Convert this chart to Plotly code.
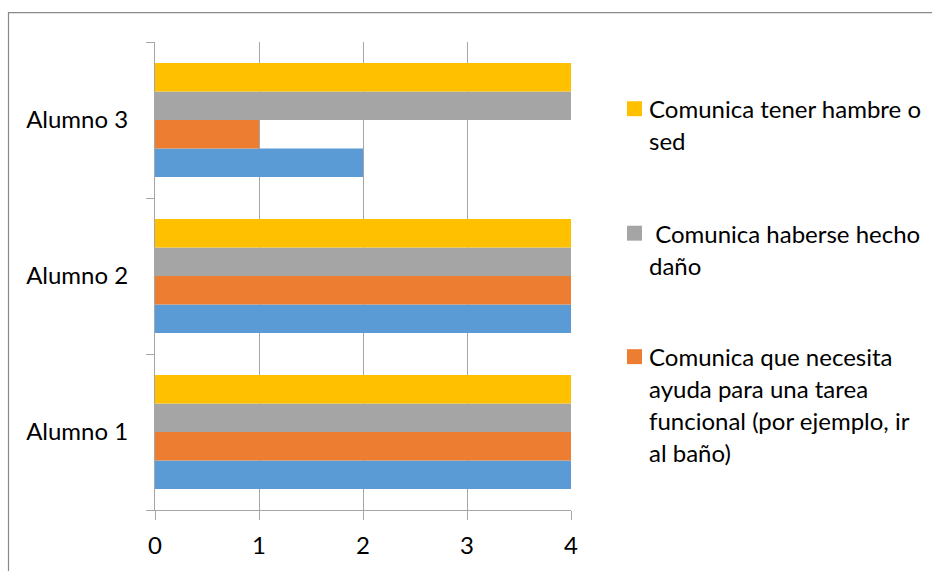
import plotly.graph_objects as go

# Categories (bottom to top) and series values
alumnos = ["Alumno 1", "Alumno 2", "Alumno 3"]
serie_azul = [4, 4, 2]
serie_naranja = [4, 4, 1]
serie_gris = [4, 4, 4]
serie_amarilla = [4, 4, 4]

nombres = [
    "Serie 1",
    "Comunica que necesita ayuda para una tarea funcional (por ejemplo, ir al baño)",
    " Comunica haberse hecho daño",
    "Comunica tener hambre o sed",
]
# Line-wrapped legend labels (top to bottom)
leyenda_lineas = [
    ["Comunica tener hambre o", "sed"],
    [" Comunica haberse hecho", "daño"],
    ["Comunica que necesita", "ayuda para una tarea", "funcional (por ejemplo, ir", "al baño)"],
]
x_ticks = [0, 1, 2, 3, 4]

colores = ["#5B9BD5", "#ED7D31", "#A5A5A5", "#FFC000"]
FONT = "Lato"
FS = 24
W, H = 932, 571
L, R, T, B = 155, 361, 42, 59
PW, PH = W - L - R, H - T - B


def px_x(p):
    return (p - L) / PW


def px_y(p):
    return (H - B - p) / PH


fig = go.Figure()
for vals, nombre, color in zip(
    [serie_azul, serie_naranja, serie_gris, serie_amarilla], nombres, colores
):
    fig.add_trace(
        go.Bar(
            y=alumnos,
            x=vals,
            name=nombre,
            orientation="h",
            marker=dict(color=color, line=dict(width=0)),
            showlegend=False,
        )
    )

# Legend drawn as colour squares plus wrapped text lines
leyenda_colores = [colores[3], colores[2], colores[1]]
inicio_y = [109, 234, 358]
paso = 32
for color, lineas, y0 in zip(leyenda_colores, leyenda_lineas, inicio_y):
    fig.add_shape(
        type="rect", xref="paper", yref="paper",
        x0=px_x(627), x1=px_x(642), y0=px_y(y0 - 7.5), y1=px_y(y0 + 7.5),
        fillcolor=color, line=dict(width=0),
    )
    for i, linea in enumerate(lineas):
        fig.add_annotation(
            xref="paper", yref="paper", x=px_x(647), y=px_y(y0 + i * paso),
            xanchor="left", yanchor="middle", showarrow=False,
            text=linea.replace(" ", "&nbsp;", 1) if linea.startswith(" ") else linea,
            font=dict(family=FONT, size=FS, color="#000000"),
        )

# Outer chart frame
fig.add_shape(
    type="rect", xref="paper", yref="paper",
    x0=px_x(8.5), x1=px_x(W + 20), y0=px_y(H + 20), y1=px_y(12.5),
    line=dict(color="#898989", width=1.2), fillcolor="rgba(0,0,0,0)",
)

fig.update_layout(
    width=W, height=H,
    margin=dict(l=L, r=R, t=T, b=B, pad=0),
    paper_bgcolor="white", plot_bgcolor="white",
    barmode="group", bargap=0.27, bargroupgap=0,
    font=dict(family=FONT, size=FS, color="#000000"),
    xaxis=dict(
        range=[0, 4], tickvals=x_ticks, ticktext=[str(v) for v in x_ticks],
        showgrid=True, gridcolor="#A6A6A6", gridwidth=1,
        showline=True, linecolor="#A6A6A6", linewidth=1,
        ticks="outside", ticklen=9, tickcolor="#A6A6A6",
        zeroline=False, tickfont=dict(family=FONT, size=FS),
        ticklabelstandoff=5,
    ),
    yaxis=dict(
        categoryorder="array", categoryarray=alumnos,
        showgrid=False, showline=True, linecolor="#A6A6A6", linewidth=1,
        ticks="outside", ticklen=8, tickcolor="#A6A6A6", tickson="boundaries",
        tickfont=dict(family=FONT, size=FS), ticklabelstandoff=21,
    ),
)

fig.write_html("out.html")
